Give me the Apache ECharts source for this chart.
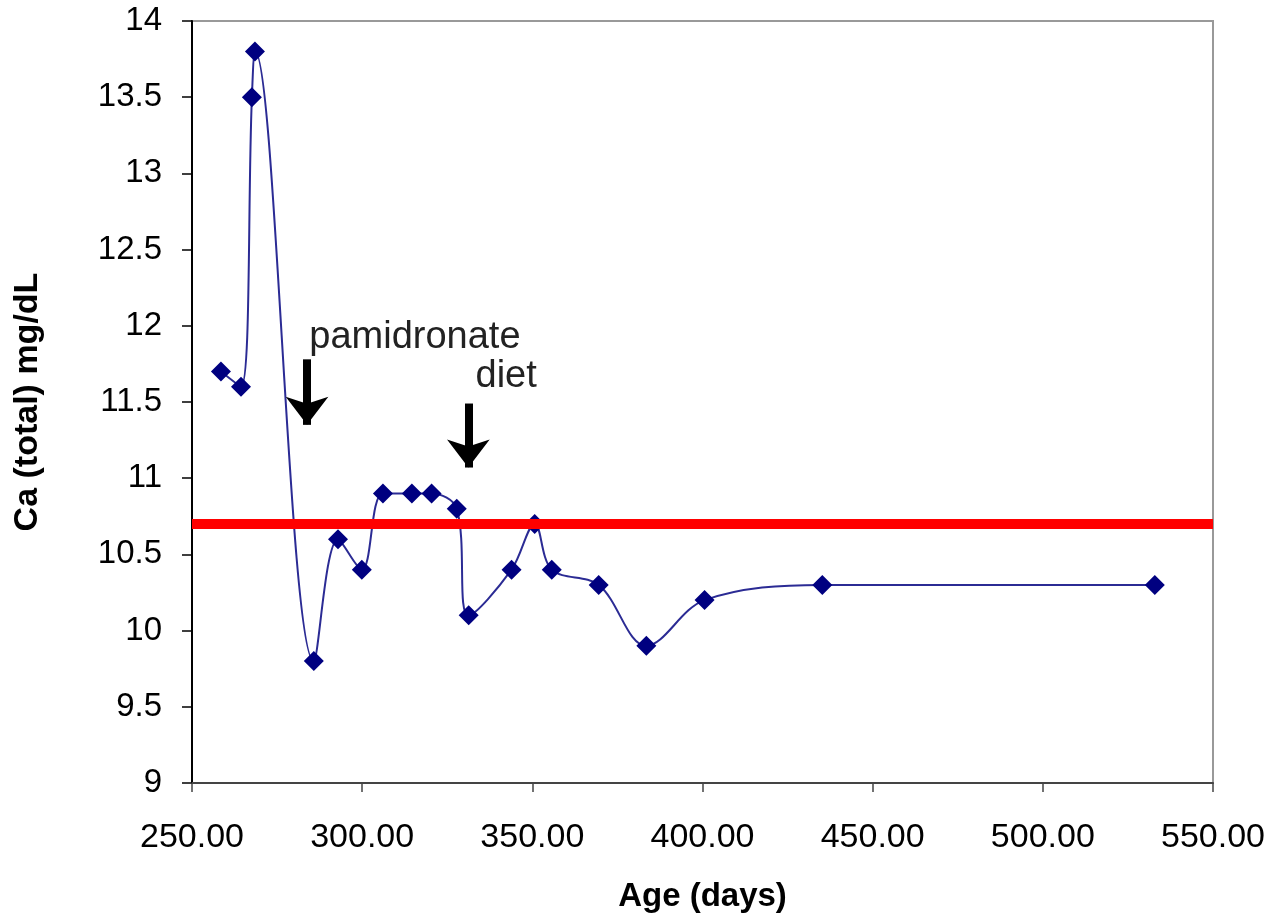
<!DOCTYPE html>
<html>
<head>
<meta charset="utf-8">
<script src="https://cdn.jsdelivr.net/npm/echarts@6/dist/echarts.min.js"></script>
<style>html,body{margin:0;padding:0;background:#fff}#c{width:1276px;height:918px}</style>
</head>
<body>
<div id="c"></div>
<script>
const ageDays = [258.5, 264.4, 267.6, 268.5, 285.8, 292.9, 299.9, 306.1, 314.6, 320.4, 327.8, 331.3, 343.9, 350.7, 355.7, 369.5, 383.5, 400.6, 435.2, 532.9];
const caTotal = [11.7, 11.6, 13.5, 13.8, 9.8, 10.6, 10.4, 10.9, 10.9, 10.9, 10.8, 10.1, 10.4, 10.7, 10.4, 10.3, 9.9, 10.2, 10.3, 10.3];
const referenceLevel = 10.7;
const xTicks = [250, 300, 350, 400, 450, 500, 550];
const annotations = [
  {text: 'pamidronate', x: 315.5, y: 11.92, arrowX: 283.8, arrowTop: 11.78, arrowBottom: 11.35},
  {text: 'diet', x: 342.3, y: 11.67, arrowX: 331.2, arrowTop: 11.49, arrowBottom: 11.07}
];

const chart = echarts.init(document.getElementById('c'));
const font = 'Liberation Sans, Arial, sans-serif';
chart.setOption({
  animation: false,
  backgroundColor: '#fff',
  grid: {left: 192, right: 63, top: 21, bottom: 134, show: true, borderColor: '#999', borderWidth: 2},
  xAxis: {
    type: 'value', min: xTicks[0], max: xTicks[xTicks.length - 1], interval: 50,
    name: 'Age (days)', nameLocation: 'middle', nameGap: 97,
    nameTextStyle: {fontFamily: font, fontSize: 33, fontWeight: 'bold', color: '#000'},
    axisLine: {lineStyle: {color: '#444', width: 2}},
    axisTick: {show: true, length: 9, lineStyle: {color: '#444', width: 1.5}},
    axisLabel: {fontFamily: font, fontSize: 34, color: '#000', margin: 38, formatter: v => v.toFixed(2)},
    splitLine: {show: false}
  },
  yAxis: {
    type: 'value', min: 9, max: 14, interval: 0.5,
    name: 'Ca (total) mg/dL', nameLocation: 'middle', nameGap: 147,
    nameTextStyle: {fontFamily: font, fontSize: 34, fontWeight: 'bold', color: '#000'},
    axisLine: {show: true, lineStyle: {color: '#000', width: 2}},
    axisTick: {show: true, length: 10, lineStyle: {color: '#000', width: 1.5}},
    axisLabel: {fontFamily: font, fontSize: 33, color: '#000', margin: 30},
    splitLine: {show: false}
  },
  series: [
    {
      type: 'line', data: ageDays.map((x, i) => [x, caTotal[i]]),
      smooth: 0.35, symbol: 'diamond', symbolSize: 20,
      itemStyle: {color: '#000080'},
      lineStyle: {color: '#2b2b94', width: 2},
      z: 3
    },
    {
      type: 'line', data: [], silent: true,
      markLine: {
        silent: true, symbol: 'none', label: {show: false},
        lineStyle: {color: '#ff0000', width: 10, type: 'solid'},
        data: [{yAxis: referenceLevel}]
      },
      z: 4
    },
    {
      type: 'line', data: [], silent: true,
      markLine: {
        silent: true, symbol: ['none', 'arrow'], symbolSize: [32, 28], label: {show: false},
        lineStyle: {color: '#000', width: 8, type: 'solid'},
        data: annotations.map(a => [{coord: [a.arrowX, a.arrowTop]}, {coord: [a.arrowX, a.arrowBottom]}])
      },
      markPoint: {
        silent: true, symbol: 'rect', symbolSize: 1, itemStyle: {color: 'rgba(0,0,0,0)'},
        label: {show: true, position: 'inside', fontFamily: font, fontSize: 38, color: '#222'},
        data: annotations.map(a => ({coord: [a.x, a.y], value: a.text, label: {formatter: a.text}}))
      }
    }
  ]
});
</script>
</body>
</html>
